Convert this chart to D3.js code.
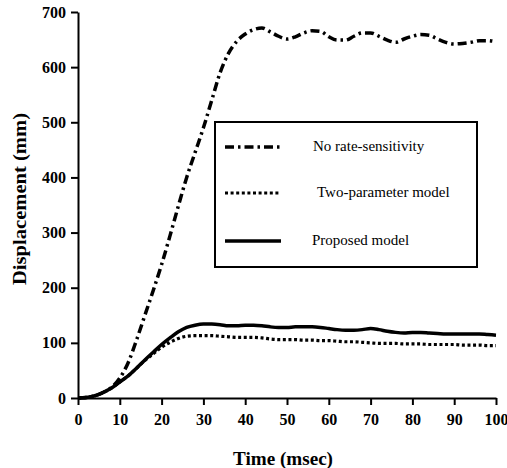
<!DOCTYPE html>
<html>
<head>
<meta charset="utf-8">
<script src="https://cdn.jsdelivr.net/npm/d3@7"></script>
<style>
  body { margin: 0; background: #fff; }
</style>
</head>
<body>
<div id="chart"></div>
<script>
// time axis (msec)
const times = [0,2,4,6,8,10,12,14,16,18,20,22,24,26,28,30,32,34,36,38,40,42,44,46,48,50,
  52,54,56,58,60,62,64,66,68,70,72,74,76,78,80,82,84,86,88,90,92,94,96,98,100];

// displacement (mm)
const noRate = [0,1,4,10,19,36,64,105,150,195,242,294,348,400,445,490,540,590,625,647,660,668,671,664,656,651,
  655,662,666,665,655,649,649,656,662,662,656,649,645,651,656,659,658,651,645,642,643,645,648,648,646];
const twoParam = [0,1,4,10,18,29,40,54,68,80,92,101,108,112,113,113,113,112,111,110,110,110,109,107,106,106,
  106,105,105,104,104,103,102,102,101,100,99,99,99,98,98,98,97,97,97,97,96,96,96,95,95];
const proposed = [0,1,4,10,18,29,40,54,69,83,97,109,120,128,132,134,134,133,131,131,132,132,131,129,128,128,
  129,129,129,128,126,124,123,123,124,126,124,121,119,118,119,119,118,117,116,116,116,116,116,115,114];

const seriesNames = ['No rate-sensitivity', 'Two-parameter model', 'Proposed model'];
const xTicks = [0,10,20,30,40,50,60,70,80,90,100];
const yTicks = [0,100,200,300,400,500,600,700];

const serif = '"Liberation Serif", "Times New Roman", Times, serif';
const width = 507, height = 468;
const margin = {top: 12, right: 11, bottom: 70, left: 78};

const svg = d3.select('#chart').append('svg').attr('width', width).attr('height', height)
  .style('font-family', serif);

const x = d3.scaleLinear().domain([0, 100]).range([margin.left, width - margin.right]);
const y = d3.scaleLinear().domain([0, 700]).range([height - margin.bottom, margin.top]);

// axes
const xAxis = svg.append('g').attr('transform', `translate(0,${y(0)})`)
  .call(d3.axisBottom(x).tickValues(xTicks).tickSize(7).tickPadding(9).tickSizeOuter(0));
const yAxis = svg.append('g').attr('transform', `translate(${x(0)},0)`)
  .call(d3.axisLeft(y).tickValues(yTicks).tickSize(7).tickPadding(5).tickSizeOuter(0));
[xAxis, yAxis].forEach(g => {
  g.attr('font-family', null).attr('font-size', null);
  g.select('.domain').attr('stroke', '#000').attr('stroke-width', 2);
  g.selectAll('.tick line').attr('stroke', '#000').attr('stroke-width', 2);
  g.selectAll('.tick text').style('font-family', serif).style('font-size', '16px')
    .style('font-weight', 'bold').attr('fill', '#000');
});

// titles
svg.append('text').attr('x', 283).attr('y', 465).attr('text-anchor', 'middle')
  .attr('textLength', 100).attr('lengthAdjust', 'spacingAndGlyphs')
  .style('font-size', '18px').style('font-weight', 'bold').text('Time (msec)');
svg.append('text').attr('transform', 'translate(26,199) rotate(-90)').attr('text-anchor', 'middle')
  .attr('textLength', 172).attr('lengthAdjust', 'spacingAndGlyphs')
  .style('font-size', '18px').style('font-weight', 'bold').text('Displacement (mm)');

// curves
const styles = [
  {data: noRate, dash: '9,4,2.5,4', w: 3.5},
  {data: twoParam, dash: '3,2.6', w: 3.2},
  {data: proposed, dash: null, w: 3.5}
];
const line = d3.line().x((d, i) => x(times[i])).y(d => y(d)).curve(d3.curveMonotoneX);
styles.forEach(s => {
  svg.append('path').datum(s.data).attr('d', line).attr('fill', 'none')
    .attr('stroke', '#000').attr('stroke-width', s.w).attr('stroke-dasharray', s.dash);
});

// legend
const lg = svg.append('g');
lg.append('rect').attr('x', 215).attr('y', 122).attr('width', 262).attr('height', 145)
  .attr('fill', '#fff').attr('stroke', '#000').attr('stroke-width', 2);
const rowY = [147, 193, 241];
seriesNames.forEach((name, i) => {
  lg.append('line').attr('x1', 225).attr('x2', 281).attr('y1', rowY[i]).attr('y2', rowY[i])
    .attr('stroke', '#000').attr('stroke-width', styles[i].w).attr('stroke-dasharray', styles[i].dash);
  lg.append('text').attr('x', [313, 317, 312][i]).attr('y', rowY[i] + 4)
    .style('font-size', '15px').text(name);
});
</script>
</body>
</html>
